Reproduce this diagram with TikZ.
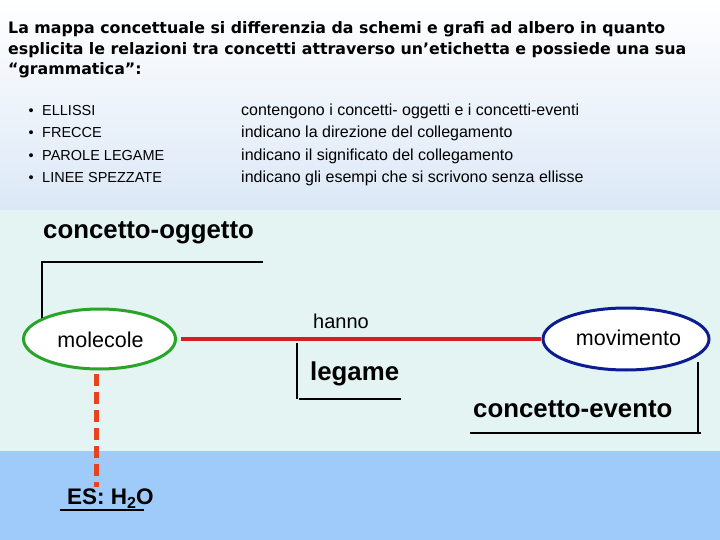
\documentclass[tikz,border=0pt]{standalone}
\usepackage{fontspec}
\setmainfont{Liberation Sans}
\newfontfamily\titlefam{DejaVu Sans}
\usetikzlibrary{shapes.geometric}
\definecolor{bandtop}{RGB}{220,232,247}
\definecolor{bandmid}{RGB}{227,244,243}
\definecolor{bandlow}{RGB}{158,203,250}
\definecolor{molgreen}{RGB}{40,165,40}
\definecolor{movblue}{RGB}{12,28,145}
\definecolor{linkred}{RGB}{214,30,30}
\definecolor{dashred}{RGB}{232,66,30}
\begin{document}
\begin{tikzpicture}[x=1pt,y=-1pt,
  titletext/.style={anchor=base west,inner sep=0pt,font=\titlefam\bfseries\fontsize{15.8}{20}\selectfont},
  itemtext/.style={anchor=base west,inner sep=0pt,font=\fontsize{14.5}{16}\selectfont},
  desctext/.style={anchor=base west,inner sep=0pt,font=\fontsize{16}{18}\selectfont},
  boldlabel/.style={anchor=base west,inner sep=0pt,font=\bfseries\fontsize{25.8}{30}\selectfont},
  plainlabel/.style={anchor=base,inner sep=0pt,font=\fontsize{21.5}{24}\selectfont},
  concept/.style={ellipse,line width=3pt,fill=white,inner sep=0pt},
  bracket/.style={draw=black,line width=1.2pt}]
\useasboundingbox (0,0) rectangle (720,540);
% backgrounds
\shade[top color=white,bottom color=bandtop] (0,0) rectangle (720,210);
\fill[bandmid] (0,210) rectangle (720,451);
\fill[bandlow] (0,451) rectangle (720,540);
% title
\node[titletext] (title1) at (8,34) {La mappa concettuale si differenzia da schemi e grafi ad albero in quanto};
\node[titletext] (title2) at (8,54.5) {esplicita le relazioni tra concetti attraverso un’etichetta e possiede una sua};
\node[titletext] (title3) at (8,75) {“grammatica”:};
% list
\foreach \y/\a/\b [count=\i] in {115.5/ELLISSI/contengono i concetti- oggetti e i concetti-eventi,
 138/FRECCE/indicano la direzione del collegamento,
 160.5/PAROLE LEGAME/indicano il significato del collegamento,
 183/LINEE SPEZZATE/indicano gli esempi che si scrivono senza ellisse}{
  \node[itemtext] (bul\i) at (28.5,\y) {•};
  \node[itemtext] (item\i) at (42,\y) {\a};
  \node[desctext] (desc\i) at (241,\y) {\b};
}
% concepts
\node[concept,draw=molgreen,minimum width=152pt,minimum height=60pt] (mol) at (99.5,339) {};
\node[plainlabel] (moltxt) at (100.5,347) {molecole};
\node[concept,draw=movblue,minimum width=166pt,minimum height=62pt] (mov) at (626,339) {};
\node[plainlabel] (movtxt) at (628.5,345) {movimento};
% link
\draw[linkred,line width=4pt] ([xshift=4pt]mol.east) -- ([xshift=-1pt]mov.west);
\node[plainlabel,font=\fontsize{20}{22}\selectfont] (hanno) at (341,328) {hanno};
% example
\node[boldlabel,font=\bfseries\fontsize{22.5}{26}\selectfont] (es) at (67,504) {ES: H\raisebox{-4pt}{\fontsize{16}{18}\selectfont 2}O};
\coordinate (dashtop) at (96,374);
\coordinate (dashbot) at (96,487);
\draw[dashred,line width=5pt,dash pattern=on 12pt off 6pt] (dashtop) -- (dashbot);
\coordinate (esul1) at (60,510);
\coordinate (esul2) at (144,510);
\draw[black,line width=2.5pt] (esul1) -- (esul2);
% annotations
\node[boldlabel] (ogg) at (43,239) {concetto-oggetto};
\coordinate (og1) at (42,318);
\coordinate (og2) at (42,262);
\coordinate (og3) at (263,262);
\draw[bracket] (og1) -- (og2) -- (og3);
\node[boldlabel] (leg) at (310,380) {legame};
\coordinate (lg1) at (297,343);
\coordinate (lg2) at (297,399);
\coordinate (lg3) at (401,399);
\draw[bracket] (lg1) -- (lg2);
\draw[bracket] ([xshift=2pt]lg2) -- (lg3);
\node[boldlabel] (eve) at (473,417) {concetto-evento};
\coordinate (ev1) at (698,362);
\coordinate (ev2) at (698,433);
\coordinate (ev3) at (470,433);
\draw[bracket] (ev1) -- (ev2);
\draw[bracket] (ev3) -- ([xshift=3pt]ev2);
\end{tikzpicture}
\end{document}
